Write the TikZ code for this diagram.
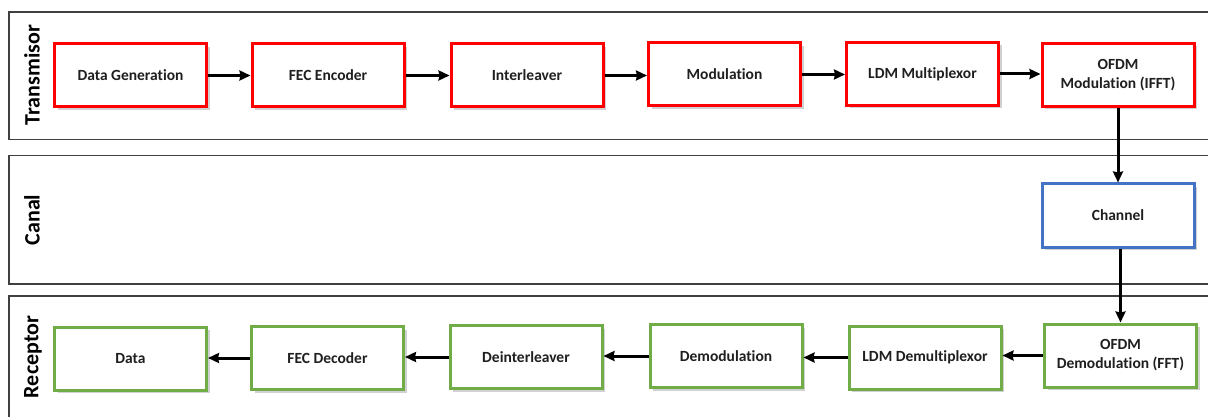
\documentclass[tikz,border=0pt]{standalone}
\usepackage{fontspec}
\setmainfont{Carlito}[Ligatures=NoCommon]
\usetikzlibrary{arrows.meta,shadows}
\definecolor{txred}{RGB}{255,0,0}
\definecolor{chblue}{RGB}{68,114,196}
\definecolor{rxgreen}{RGB}{112,173,71}
\definecolor{lanegray}{RGB}{64,64,64}
\tikzset{
  block/.style={draw=#1, line width=3pt, fill=white, minimum width=152pt, minimum height=63pt,
    align=center, font=\bfseries\fontsize{15.5}{19}\selectfont, text=black!88,
    drop shadow={shadow xshift=3pt, shadow yshift=-3pt, opacity=0.3, fill=black!60}},
  lane/.style={draw=lanegray, line width=1.5pt},
  lanelabel/.style={rotate=90, font=\bfseries\fontsize{22}{25}\selectfont},
  flow/.style={-{Stealth[length=11pt,width=10pt,inset=1pt]}, line width=3pt, black},
}
\begin{document}
\begin{tikzpicture}[x=1pt,y=-1pt]
\useasboundingbox (0,0) rectangle (1208,417);
% swim lanes (open on the right)
\draw[lane] (1210,12) -- (9,12) -- (9,139.5) -- (1210,139.5);
\draw[lane] (1210,155.5) -- (9,155.5) -- (9,284) -- (1210,284);
\draw[lane] (1210,296) -- (9,296) -- (9,420);
\node[lanelabel] (lt) at (32,75) {Transmisor};
\node[lanelabel] (lc) at (32,220) {Canal};
\node[lanelabel] (lr) at (33,357) {Receptor};
% transmitter chain
\node[block=txred] (t1) at (130.5,75.5) {Data Generation};
\node[block=txred] (t2) at (328,75.5) {FEC Encoder};
\node[block=txred] (t3) at (527,75.5) {Interleaver};
\node[block=txred] (t4) at (724.5,74.5) {Modulation};
\node[block=txred] (t5) at (922.5,74) {LDM Multiplexor};
\node[block=txred] (t6) at (1118,75) {OFDM\\Modulation (IFFT)};
% channel
\node[block=chblue] (ch) at (1118,215.5) {Channel};
% receiver chain
\node[block=rxgreen] (r6) at (1120.5,355.5) {OFDM\\Demodulation (FFT)};
\node[block=rxgreen] (r5) at (925,357.5) {LDM Demultiplexor};
\node[block=rxgreen] (r4) at (726,356) {Demodulation};
\node[block=rxgreen] (r3) at (526,357) {Deinterleaver};
\node[block=rxgreen] (r2) at (327.5,358) {FEC Decoder};
\node[block=rxgreen] (r1) at (130.5,358.5) {Data};
% connectors
\draw[flow] (t1.east) -- (t1.east -| t2.west);
\draw[flow] (t2.east) -- (t2.east -| t3.west);
\draw[flow] (t3.east) -- (t3.east -| t4.west);
\draw[flow] (t4.east) -- (t4.east -| t5.west);
\draw[flow] (t5.east) -- (t5.east -| t6.west);
\draw[flow] (t6.south) -- (ch.north);
\draw[flow] (ch.south -| r6.north) -- (r6.north);
\draw[flow] (r6.west) -- (r6.west -| r5.east);
\draw[flow] (r5.west) -- (r5.west -| r4.east);
\draw[flow] (r4.west) -- (r4.west -| r3.east);
\draw[flow] (r3.west) -- (r3.west -| r2.east);
\draw[flow] (r2.west) -- (r2.west -| r1.east);
\end{tikzpicture}
\end{document}
